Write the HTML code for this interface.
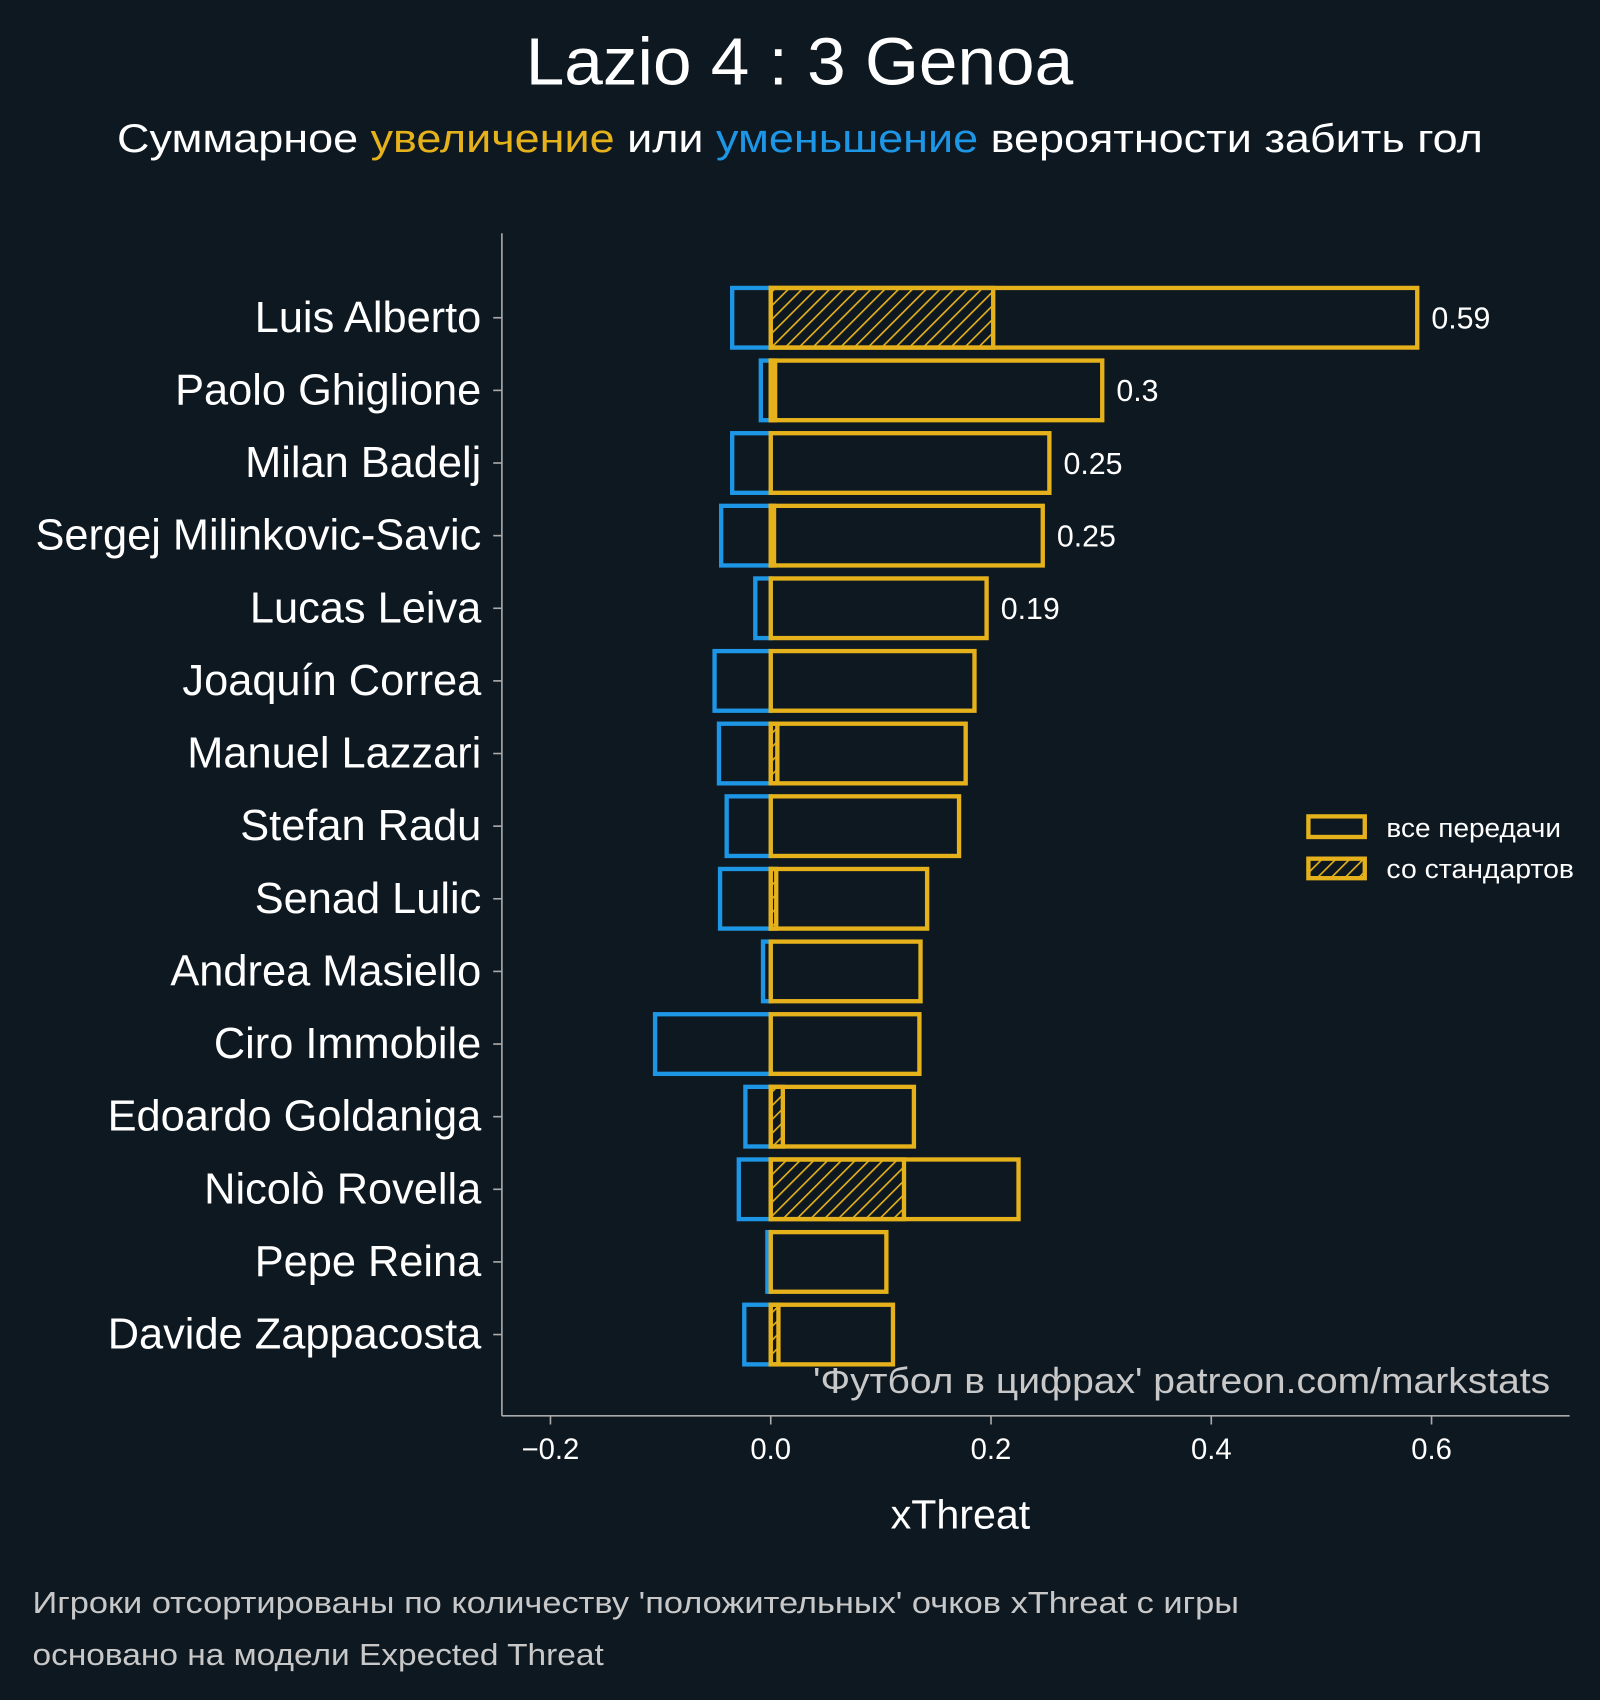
<!DOCTYPE html>
<html><head><meta charset="utf-8"><style>
html,body{margin:0;padding:0;background:#0e1821;}
svg{display:block;}
text{font-family:"Liberation Sans",sans-serif;}
</style></head><body>
<svg id="chart" width="1600" height="1700" viewBox="0 0 1476 1568" xmlns="http://www.w3.org/2000/svg">
<defs>
<pattern id="hatch" patternUnits="userSpaceOnUse" width="9" height="9" patternTransform="rotate(45)">
<rect width="9" height="9" fill="#0e1821"/>
<line x1="0" y1="0" x2="0" y2="9" stroke="#e6b21c" stroke-width="3"/>
</pattern>
</defs>
<rect width="1476" height="1568" fill="#0e1821"/>
<text x="485" y="78" textLength="505" lengthAdjust="spacingAndGlyphs" fill="#fff" font-size="62">Lazio 4 : 3 Genoa</text>
<text x="108" y="140" textLength="1260" lengthAdjust="spacingAndGlyphs" fill="#fff" font-size="37">Суммарное <tspan fill="#e6b21c">увеличение</tspan> или <tspan fill="#1e96e6">уменьшение</tspan> вероятности забить гол</text>
<g id="axes"></g>
<g id="bars"></g>
<text x="750" y="1285" textLength="680" lengthAdjust="spacingAndGlyphs" fill="#c8c8c8" font-size="33">'Футбол в цифрах' patreon.com/markstats</text>
<text x="886" y="1410" text-anchor="middle" fill="#fff" font-size="38">xThreat</text>
<g>
<rect x="1207" y="753" width="52" height="19" fill="none" stroke="#e6b21c" stroke-width="4"/>
<text x="1279" y="772" textLength="161" lengthAdjust="spacingAndGlyphs" fill="#fff" font-size="24">все передачи</text>
<rect x="1207" y="792" width="52" height="18" fill="url(#hatch)" stroke="#e6b21c" stroke-width="4"/>
<text x="1279" y="810" textLength="173" lengthAdjust="spacingAndGlyphs" fill="#fff" font-size="24">со стандартов</text>
</g>
<text x="30" y="1488" textLength="1113" lengthAdjust="spacingAndGlyphs" fill="#c8c8c8" font-size="28">Игроки отсортированы по количеству 'положительных' очков xThreat с игры</text>
<text x="30" y="1536" textLength="527" lengthAdjust="spacingAndGlyphs" fill="#c8c8c8" font-size="28">основано на модели Expected Threat</text>
</svg>
<script>
const players=["Luis Alberto","Paolo Ghiglione","Milan Badelj","Sergej Milinkovic-Savic","Lucas Leiva","Joaquín Correa","Manuel Lazzari","Stefan Radu","Senad Lulic","Andrea Masiello","Ciro Immobile","Edoardo Goldaniga","Nicolò Rovella","Pepe Reina","Davide Zappacosta"];
const positive=[0.587,0.301,0.253,0.247,0.196,0.185,0.177,0.171,0.142,0.136,0.135,0.130,0.225,0.105,0.111];
const negative=[-0.035,-0.009,-0.035,-0.045,-0.014,-0.051,-0.047,-0.040,-0.046,-0.007,-0.105,-0.023,-0.029,-0.003,-0.024];
const setPiece=[0.202,0.004,0,0.003,0,0,0.006,0,0.005,0,0,0.011,0.121,0,0.007];
const valueLabels=["0.59","0.3","0.25","0.25","0.19"];
const xTicks=[-0.2,0,0.2,0.4,0.6];
const xTickLabels=["−0.2","0.0","0.2","0.4","0.6"];

const NS="http://www.w3.org/2000/svg";
const x=v=>711+v*1016;
const y=i=>293+i*67;
const BH=55;
function mk(tag,attrs,parent,txt){const e=document.createElementNS(NS,tag);for(const k in attrs)e.setAttribute(k,attrs[k]);if(txt!==undefined)e.textContent=txt;parent.appendChild(e);return e;}
const axes=document.getElementById('axes'),bars=document.getElementById('bars');
let e=mk('line',{x1:463,y1:215,x2:463,y2:1306,stroke:'#aaa','stroke-width':1.5},axes);


e=mk('line',{x1:463,y1:1306,x2:1448,y2:1306,stroke:'#aaa','stroke-width':1.5},axes);


xTicks.forEach((t,i)=>{
  e=mk('line',{x1:x(t),y1:1306,x2:x(t),y2:1314,stroke:'#aaa','stroke-width':1.5},axes);
  
  
  e=mk('text',{x:x(t),y:1346,'text-anchor':'middle',fill:'#fff','font-size':27},axes,xTickLabels[i]);
  
  
});
players.forEach((p,i)=>{
  const cy=y(i);
  e=mk('line',{x1:455,y1:cy,x2:463,y2:cy,stroke:'#aaa','stroke-width':1.5},axes);
  
  
  e=mk('text',{x:444,y:cy+13,'text-anchor':'end',fill:'#fff','font-size':40},axes,p);
  
  
  e=mk('rect',{x:x(negative[i]),y:cy-BH/2,width:x(0)-x(negative[i]),height:BH,fill:'none',stroke:'#1e96e6','stroke-width':4},bars);
  
  
  if(setPiece[i]>0){
    e=mk('rect',{x:x(0),y:cy-BH/2,width:x(setPiece[i])-x(0),height:BH,fill:'url(#hatch)',stroke:'#e6b21c','stroke-width':4},bars);
    
    
  }
  e=mk('rect',{x:x(0),y:cy-BH/2,width:x(positive[i])-x(0),height:BH,fill:'none',stroke:'#e6b21c','stroke-width':4},bars);
  
  
  if(i<valueLabels.length){
    e=mk('text',{x:x(positive[i])+13,y:cy+10,fill:'#fff','font-size':28},bars,valueLabels[i]);
    
    
  }
});
</script>
</body></html>
